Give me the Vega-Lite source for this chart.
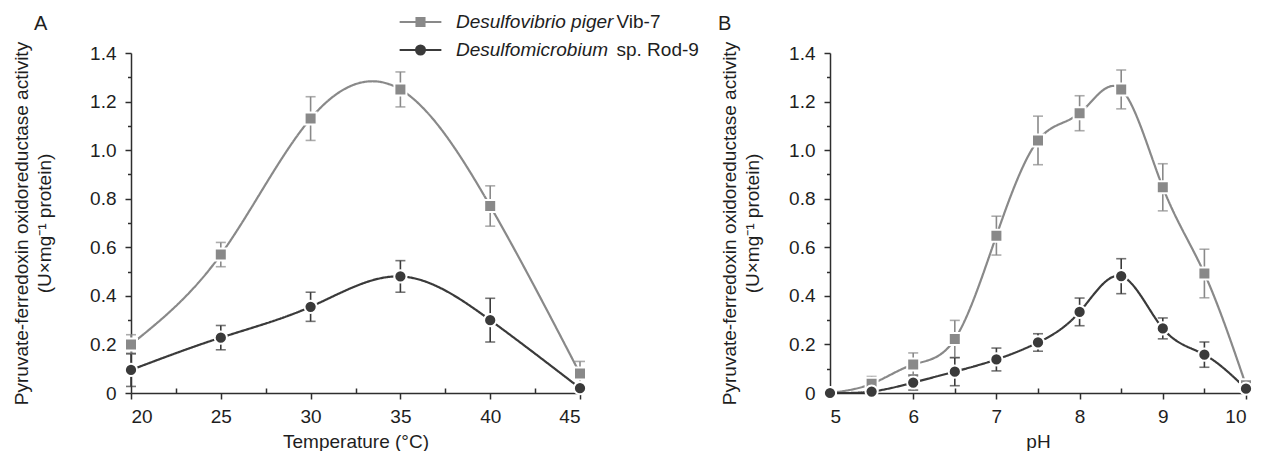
{
  "$schema": "https://vega.github.io/schema/vega-lite/v6.json",
  "padding": {"left": 12, "top": 12, "right": 5, "bottom": 0},
  "bounds": "flush",
  "spacing": 250,
  "config": {
    "font": "Liberation Sans",
    "view": {"stroke": null},
    "axis": {"grid": false, "domainColor": "#2e2e2e", "domainWidth": 1.5, "tickColor": "#2e2e2e", "tickWidth": 1.5, "labelFontSize": 19, "labelColor": "#1e1e1e", "titleFontSize": 19, "titleFontWeight": "normal", "titleColor": "#1e1e1e"},
    "title": {"fontSize": 20, "fontWeight": "normal", "color": "#1e1e1e"},
    "legend": {"orient": "none", "title": null, "labelFontSize": 19, "labelColor": "#1e1e1e", "rowPadding": 8}
  },
  "datasets": {
    "temp": [
      {"t": 20, "genus": "Desulfovibrio piger", "strain": "Vib-7", "v": 0.20, "err": 0.04},
      {"t": 25, "genus": "Desulfovibrio piger", "strain": "Vib-7", "v": 0.57, "err": 0.05},
      {"t": 30, "genus": "Desulfovibrio piger", "strain": "Vib-7", "v": 1.13, "err": 0.09},
      {"t": 35, "genus": "Desulfovibrio piger", "strain": "Vib-7", "v": 1.25, "err": 0.072},
      {"t": 40, "genus": "Desulfovibrio piger", "strain": "Vib-7", "v": 0.77, "err": 0.083},
      {"t": 45, "genus": "Desulfovibrio piger", "strain": "Vib-7", "v": 0.08, "err": 0.05},
      {"t": 20, "genus": "Desulfomicrobium", "strain": "sp. Rod-9", "v": 0.095, "err": 0.068},
      {"t": 25, "genus": "Desulfomicrobium", "strain": "sp. Rod-9", "v": 0.228, "err": 0.05},
      {"t": 30, "genus": "Desulfomicrobium", "strain": "sp. Rod-9", "v": 0.355, "err": 0.06},
      {"t": 35, "genus": "Desulfomicrobium", "strain": "sp. Rod-9", "v": 0.48, "err": 0.065},
      {"t": 40, "genus": "Desulfomicrobium", "strain": "sp. Rod-9", "v": 0.30, "err": 0.09},
      {"t": 45, "genus": "Desulfomicrobium", "strain": "sp. Rod-9", "v": 0.02, "err": 0.01}
    ],
    "ph": [
      {"pH": 5, "genus": "Desulfovibrio piger", "strain": "Vib-7", "v": 0.0, "err": 0.005},
      {"pH": 5.5, "genus": "Desulfovibrio piger", "strain": "Vib-7", "v": 0.038, "err": 0.03},
      {"pH": 6, "genus": "Desulfovibrio piger", "strain": "Vib-7", "v": 0.117, "err": 0.048},
      {"pH": 6.5, "genus": "Desulfovibrio piger", "strain": "Vib-7", "v": 0.222, "err": 0.077},
      {"pH": 7, "genus": "Desulfovibrio piger", "strain": "Vib-7", "v": 0.648, "err": 0.08},
      {"pH": 7.5, "genus": "Desulfovibrio piger", "strain": "Vib-7", "v": 1.04, "err": 0.1},
      {"pH": 8, "genus": "Desulfovibrio piger", "strain": "Vib-7", "v": 1.152, "err": 0.072},
      {"pH": 8.5, "genus": "Desulfovibrio piger", "strain": "Vib-7", "v": 1.25, "err": 0.08},
      {"pH": 9, "genus": "Desulfovibrio piger", "strain": "Vib-7", "v": 0.847, "err": 0.097},
      {"pH": 9.5, "genus": "Desulfovibrio piger", "strain": "Vib-7", "v": 0.492, "err": 0.1},
      {"pH": 10, "genus": "Desulfovibrio piger", "strain": "Vib-7", "v": 0.032, "err": 0.012},
      {"pH": 5, "genus": "Desulfomicrobium", "strain": "sp. Rod-9", "v": 0.0, "err": 0.005},
      {"pH": 5.5, "genus": "Desulfomicrobium", "strain": "sp. Rod-9", "v": 0.006, "err": 0.005},
      {"pH": 6, "genus": "Desulfomicrobium", "strain": "sp. Rod-9", "v": 0.043, "err": 0.031},
      {"pH": 6.5, "genus": "Desulfomicrobium", "strain": "sp. Rod-9", "v": 0.088, "err": 0.058},
      {"pH": 7, "genus": "Desulfomicrobium", "strain": "sp. Rod-9", "v": 0.138, "err": 0.047},
      {"pH": 7.5, "genus": "Desulfomicrobium", "strain": "sp. Rod-9", "v": 0.208, "err": 0.036},
      {"pH": 8, "genus": "Desulfomicrobium", "strain": "sp. Rod-9", "v": 0.334, "err": 0.057},
      {"pH": 8.5, "genus": "Desulfomicrobium", "strain": "sp. Rod-9", "v": 0.481, "err": 0.072},
      {"pH": 9, "genus": "Desulfomicrobium", "strain": "sp. Rod-9", "v": 0.266, "err": 0.043},
      {"pH": 9.5, "genus": "Desulfomicrobium", "strain": "sp. Rod-9", "v": 0.158, "err": 0.052},
      {"pH": 10, "genus": "Desulfomicrobium", "strain": "sp. Rod-9", "v": 0.018, "err": 0.01}
    ]
  },
  "hconcat": [
    {
      "width": 449,
      "height": 340,
      "title": {"text": "A", "anchor": "start", "frame": "group", "dx": -97, "offset": 7},
      "data": {"name": "temp"},
      "encoding": {
        "x": {"field": "t", "type": "quantitative", "scale": {"domain": [20, 45], "nice": false, "zero": false},
          "axis": {"title": "Temperature (°C)", "values": [20, 22.5, 25, 27.5, 30, 32.5, 35, 37.5, 40, 42.5, 45],
            "labelExpr": "datum.value % 5 == 0 ? format(datum.value, 'd') : ''",
            "tickSize": {"condition": {"test": "datum.value % 5 != 0", "value": -5}, "value": 6},
            "labelPadding": 8, "titlePadding": 6}},
        "y": {"field": "v", "type": "quantitative", "scale": {"domain": [0, 1.4], "nice": false},
          "axis": {"title": ["Pyruvate-ferredoxin oxidoreductase activity", "(U×mg⁻¹ protein)"], "titleLineHeight": 23,
            "values": [0, 0.1, 0.2, 0.3, 0.4, 0.5, 0.6, 0.7, 0.8, 0.9, 1.0, 1.1, 1.2, 1.3, 1.4],
            "labelExpr": "round(datum.value*10) % 2 == 1 ? '' : (datum.value == 0 ? '0' : format(datum.value, '.1f'))",
            "tickSize": {"condition": {"test": "round(datum.value*10) % 2 == 1", "value": 3.5}, "value": 6},
            "labelPadding": 9, "titlePadding": 35}},
        "color": {"field": "genus", "type": "nominal", "scale": {"domain": ["Desulfovibrio piger", "Desulfomicrobium"], "range": ["#898989", "#3a3a3a"]},
          "legend": {"legendX": 280, "legendY": -40.5, "labelFontStyle": "italic", "symbolSize": 90, "symbolStrokeWidth": 2, "symbolOpacity": 1, "labelOffset": 26}}
      },
      "layer": [
        {"mark": {"type": "errorbar", "ticks": {"size": 10}, "thickness": 1.6}, "encoding": {"yError": {"field": "err"}}},
        {"mark": {"type": "line", "interpolate": "natural", "strokeWidth": 2.2, "clip": true},
          "encoding": {"strokeDash": {"field": "strain", "type": "nominal", "scale": {"domain": ["Vib-7", "sp. Rod-9"], "range": [[1, 0], [1, 0]]},
            "legend": {"legendX": 466.5, "legendY": -40.5, "symbolSize": 0, "symbolOpacity": 0, "symbolStrokeWidth": 0, "labelOffset": 0}}}},
        {"transform": [{"filter": "datum.genus == 'Desulfovibrio piger'"}],
          "mark": {"type": "point", "shape": "square", "size": 144, "filled": true, "opacity": 1, "stroke": "white", "strokeWidth": 2}},
        {"transform": [{"filter": "datum.genus == 'Desulfomicrobium'"}],
          "mark": {"type": "point", "shape": "circle", "size": 150, "filled": true, "opacity": 1, "stroke": "white", "strokeWidth": 2}},
        {"mark": {"type": "point", "filled": true, "opacity": 0, "strokeWidth": 2},
          "encoding": {
            "shape": {"field": "genus", "type": "nominal", "scale": {"domain": ["Desulfovibrio piger", "Desulfomicrobium"], "range": ["M-0.85,-0.85H0.85V0.85H-0.85Z M-4.4,0H-0.85 M0.85,0H4.4", "M-0.95,0A0.95,0.95,0,1,1,0.95,0A0.95,0.95,0,1,1,-0.95,0Z M-4.4,0H-0.95 M0.95,0H4.4"]},
              "legend": {"legendX": 280, "legendY": -40.5, "labelFontStyle": "italic", "symbolSize": 90, "symbolStrokeWidth": 2, "symbolOpacity": 1, "labelOffset": 26}},
            "stroke": {"field": "genus", "type": "nominal", "scale": {"domain": ["Desulfovibrio piger", "Desulfomicrobium"], "range": ["#898989", "#3a3a3a"]},
              "legend": {"legendX": 280, "legendY": -40.5, "labelFontStyle": "italic", "symbolSize": 90, "symbolStrokeWidth": 2, "symbolOpacity": 1, "labelOffset": 26}}
          }}
      ]
    },
    {
      "width": 416,
      "height": 340,
      "title": {"text": "B", "anchor": "start", "frame": "group", "dx": -112, "offset": 7},
      "data": {"name": "ph"},
      "encoding": {
        "x": {"field": "pH", "type": "quantitative", "scale": {"domain": [5, 10], "nice": false, "zero": false},
          "axis": {"title": "pH", "values": [5, 5.5, 6, 6.5, 7, 7.5, 8, 8.5, 9, 9.5, 10],
            "labelExpr": "datum.value % 1 == 0 ? format(datum.value, 'd') : ''",
            "tickSize": {"condition": {"test": "datum.value % 1 != 0", "value": -5}, "value": 6},
            "labelPadding": 8, "titlePadding": 6}},
        "y": {"field": "v", "type": "quantitative", "scale": {"domain": [0, 1.4], "nice": false},
          "axis": {"title": ["Pyruvate-ferredoxin oxidoreductase activity", "(U×mg⁻¹ protein)"], "titleLineHeight": 23,
            "values": [0, 0.1, 0.2, 0.3, 0.4, 0.5, 0.6, 0.7, 0.8, 0.9, 1.0, 1.1, 1.2, 1.3, 1.4],
            "labelExpr": "round(datum.value*10) % 2 == 1 ? '' : (datum.value == 0 ? '0' : format(datum.value, '.1f'))",
            "tickSize": {"condition": {"test": "round(datum.value*10) % 2 == 1", "value": 3.5}, "value": 6},
            "labelPadding": 9, "titlePadding": 26}},
        "color": {"field": "genus", "type": "nominal", "scale": {"domain": ["Desulfovibrio piger", "Desulfomicrobium"], "range": ["#898989", "#3a3a3a"]},
          "legend": {"legendX": 280, "legendY": -40.5, "labelFontStyle": "italic", "symbolSize": 90, "symbolStrokeWidth": 2, "symbolOpacity": 1, "labelOffset": 26}}
      },
      "layer": [
        {"mark": {"type": "errorbar", "ticks": {"size": 10}, "thickness": 1.6}, "encoding": {"yError": {"field": "err"}}},
        {"mark": {"type": "line", "interpolate": "natural", "strokeWidth": 2.2, "clip": true},
          "encoding": {"strokeDash": {"field": "strain", "type": "nominal", "scale": {"domain": ["Vib-7", "sp. Rod-9"], "range": [[1, 0], [1, 0]]},
            "legend": {"legendX": 466.5, "legendY": -40.5, "symbolSize": 0, "symbolOpacity": 0, "symbolStrokeWidth": 0, "labelOffset": 0}}}},
        {"transform": [{"filter": "datum.genus == 'Desulfovibrio piger'"}],
          "mark": {"type": "point", "shape": "square", "size": 144, "filled": true, "opacity": 1, "stroke": "white", "strokeWidth": 2}},
        {"transform": [{"filter": "datum.genus == 'Desulfomicrobium'"}],
          "mark": {"type": "point", "shape": "circle", "size": 150, "filled": true, "opacity": 1, "stroke": "white", "strokeWidth": 2}},
        {"mark": {"type": "point", "filled": true, "opacity": 0, "strokeWidth": 2},
          "encoding": {
            "shape": {"field": "genus", "type": "nominal", "scale": {"domain": ["Desulfovibrio piger", "Desulfomicrobium"], "range": ["M-0.85,-0.85H0.85V0.85H-0.85Z M-4.4,0H-0.85 M0.85,0H4.4", "M-0.95,0A0.95,0.95,0,1,1,0.95,0A0.95,0.95,0,1,1,-0.95,0Z M-4.4,0H-0.95 M0.95,0H4.4"]},
              "legend": {"legendX": 280, "legendY": -40.5, "labelFontStyle": "italic", "symbolSize": 90, "symbolStrokeWidth": 2, "symbolOpacity": 1, "labelOffset": 26}},
            "stroke": {"field": "genus", "type": "nominal", "scale": {"domain": ["Desulfovibrio piger", "Desulfomicrobium"], "range": ["#898989", "#3a3a3a"]},
              "legend": {"legendX": 280, "legendY": -40.5, "labelFontStyle": "italic", "symbolSize": 90, "symbolStrokeWidth": 2, "symbolOpacity": 1, "labelOffset": 26}}
          }}
      ]
    }
  ]
}
